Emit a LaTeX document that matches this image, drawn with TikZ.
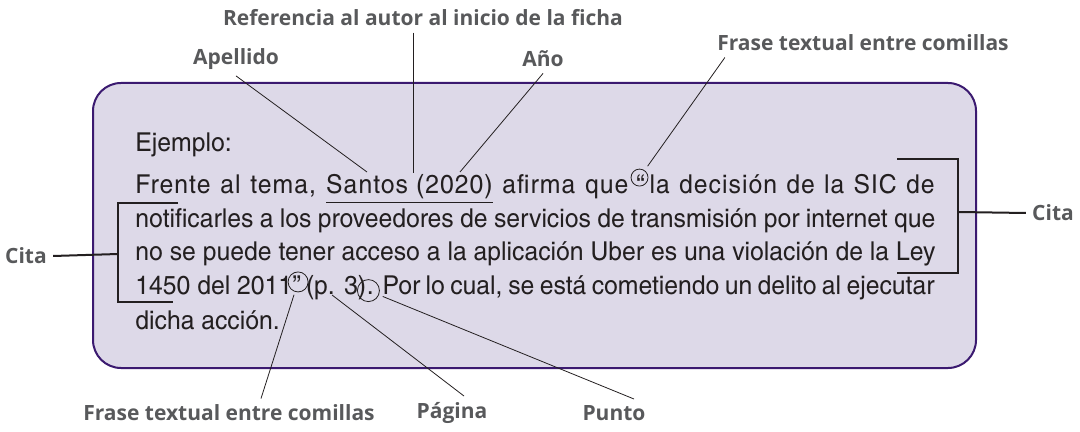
\documentclass[tikz,border=0pt]{standalone}
\usepackage{fontspec}
\setmainfont{TeX Gyre Heros Cn}[FakeStretch=1.16]
\newfontfamily\lblfont{Open Sans}
\usetikzlibrary{positioning}
\definecolor{boxfill}{RGB}{221,217,232}
\definecolor{boxline}{RGB}{59,26,112}
\definecolor{lblgray}{RGB}{88,89,91}
\definecolor{ink}{RGB}{35,31,32}
\tikzset{
  lbl/.style={font=\lblfont\bfseries\fontsize{10.5}{12}\selectfont,text=lblgray,inner sep=3pt},
  txt/.style={font=\fontsize{13}{17}\selectfont,text=ink,anchor=base west,inner sep=0},
  ring/.style={draw=ink,circle,line width=0.4pt,inner sep=0,minimum size=#1},
  leader/.style={draw=ink,line width=0.4pt},
  brace/.style={draw=ink,line width=1pt},
}
\newlength\linew \setlength\linew{400pt}
\begin{document}
\begin{tikzpicture}[x=0.5pt,y=-0.5pt]
  \useasboundingbox (0,0) rectangle (1080,432);
  \draw[boxline,fill=boxfill,line width=1pt,rounded corners=14pt] (93,83) rectangle (976,368); %kasse
  % texto del ejemplo
  \node[txt] (ej) at (135,152) {Ejemplo:};
  \node[txt] (l1a) at (135,194) {\addfontfeature{LetterSpace=4}\makebox[246.5pt][s]{Frente al tema, \underline{Santos (2020)} afirma que}};
  \node[txt] (oq) at (636,194) {“};
  \node[txt,anchor=base east] (l1b) at (935,194) {\addfontfeature{LetterSpace=4}\makebox[142.5pt][s]{la decisión de la SIC de}};
  \node[txt] (l2) at (135,228) {\makebox[\linew][s]{notificarles a los proveedores de servicios de transmisión por internet que}};
  \node[txt] (l3) at (135,261) {\makebox[\linew][s]{no se puede tener acceso a la aplicación Uber es una violación de la Ley}};
  \node[txt] (l4a) at (135,295) {1450 del 2011};
  \node[txt] (cq) at (l4a.base east) {”};
  \node[txt] (l4b) at ([xshift=2pt]cq.base east) {(p. 3)};
  \node[txt] (pt) at (l4b.base east) {.};
  \node[txt,anchor=base east] (l4c) at (935,295) {\makebox[276pt][s]{Por lo cual, se está cometiendo un delito al ejecutar}};
  \node[txt] (l5) at (135,329) {dicha acción.};
  % etiquetas
  \node[lbl] (ref) at (423,18) {Referencia al autor al inicio de la ficha};
  \node[lbl] (apellido) at (236,59) {Apellido};
  \node[lbl] (anio) at (543,59) {Año};
  \node[lbl] (frase1) at (863,43) {Frase textual entre comillas};
  \node[lbl] (cita2) at (1053,213) {Cita};
  \node[lbl] (cita1) at (26,256) {Cita};
  \node[lbl] (frase2) at (229,413) {Frase textual entre comillas};
  \node[lbl] (pagina) at (452,413) {Página};
  \node[lbl] (punto) at (614,413) {Punto};
  % puntos de llegada
  \coordinate (santos) at (367,172);
  \coordinate (autor) at (413,173);
  \coordinate (year) at (460,172);
  \coordinate (pag) at ([xshift=-2pt]l4b.base);
  \node[ring=8.5pt] (qopen) at ([xshift=-0.5pt,yshift=3.5pt]oq.center) {};
  \node[ring=10pt] (qclose) at ([xshift=0.5pt,yshift=-3pt]cq.north) {};
  \node[ring=11pt] (dot) at ([xshift=1pt,yshift=1.5pt]pt.west) {};
  % lineas
  \draw[leader] (apellido.south) -- (santos); %apellido
  \draw[leader] (ref.south -| autor) -- (autor); %referencia
  \draw[leader] (anio.south) -- (year); %año
  \draw[leader,shorten >=2.5pt] ([xshift=7pt]frase1.south west) -- (qopen); %comilla
  \draw[leader,shorten <=1.5pt] (qclose) -- ([xshift=16pt]frase2.north); %comilla
  \draw[leader] (pag) -- ([xshift=6pt]pagina.north); %pagina
  \draw[leader,shorten <=2pt] (dot) -- ([xshift=10pt]punto.north); %punto
  % corchetes
  \draw[brace] (178,203) -| (118,302) -- (173,302); %izq
  \draw[brace] (cita1.east) -- (118,254);
  \draw[brace] (897,159) -| (958,273) -- (897,273); %der
  \draw[brace] (958,212) -- (cita2.west);
\end{tikzpicture}
\end{document}
